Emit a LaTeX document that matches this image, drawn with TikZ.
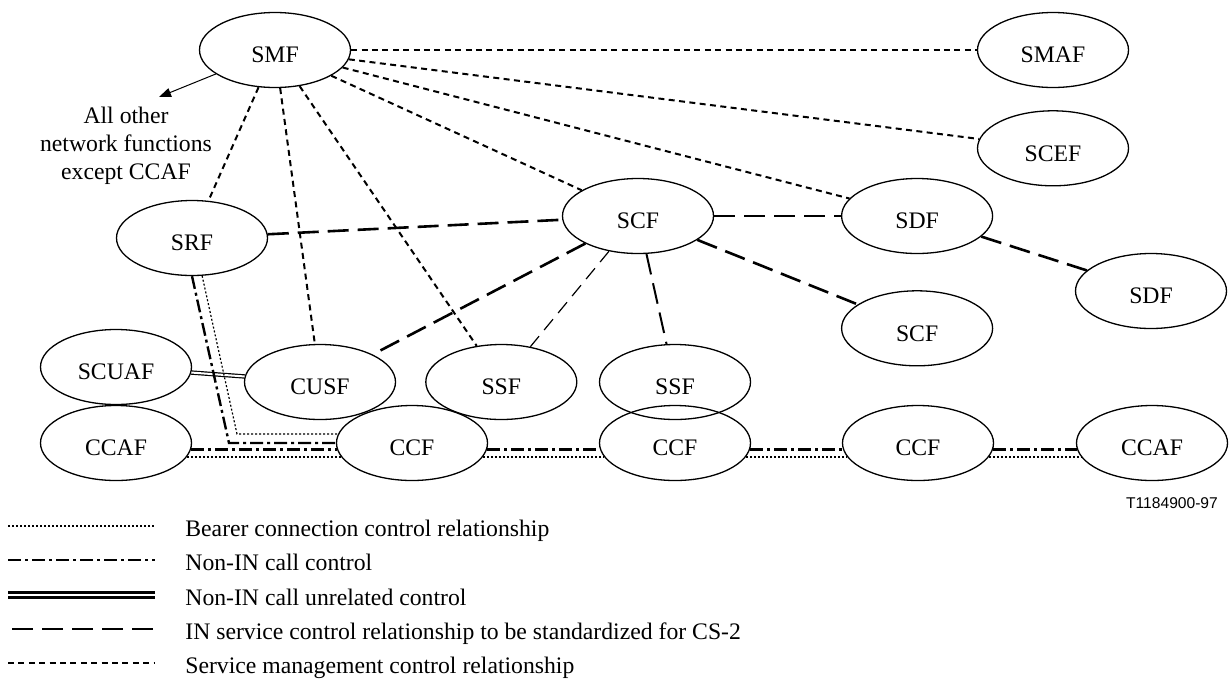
\documentclass[tikz,border=0pt]{standalone}
\usepackage{fontspec}
\setmainfont{Liberation Serif}
\newfontfamily\figidfont{Liberation Sans}
\usepackage{tikz}
\usetikzlibrary{arrows.meta,positioning,shapes.geometric}

\tikzset{
  func/.style={ellipse, draw, line width=0.65pt, minimum width=75.5pt, minimum height=37.5pt,
    inner sep=0pt, text height=12.8pt, text depth=0pt},
  smgmt/.style={line width=1pt, dash pattern=on 3pt off 2.2pt},
  bearer/.style={line width=0.9pt, dash pattern=on 1pt off 1pt},
  callctl/.style={line width=1.2pt, dash pattern=on 6.5pt off 2pt on 1.5pt off 2pt},
  unrel/.style={double, line width=0.6pt, double distance=1pt},
  insvc/.style={line width=1.3pt, dash pattern=on 10.5pt off 4.5pt},
  legtext/.style={anchor=base west, inner sep=0pt},
}

\begin{document}
\begin{tikzpicture}[x=0.5pt, y=-0.5pt, font=\fontsize{11.85pt}{14pt}\selectfont]
    \useasboundingbox (0,0) rectangle (1229,691);

    \node[func] (SMF) at (275,50) {SMF};
    \node[func] (SMAF) at (1053,50) {SMAF};
    \node[func, below=11pt of SMAF] (SCEF) {SCEF};
    \node[func] (SCF) at (638,216) {SCF};
    \node[func, right=63.4pt of SCF] (SDF) {SDF};
    \node[func, below=18pt of SDF] (SCFb) {SCF};
    \node[func] (SDFb) at (1151,291) {SDF};
    \node[func] (SRF) at (192,238) {SRF};
    \node[func] (SCUAF) at (116,367) {SCUAF};
    \node[func] (CUSF) at (320,382) {CUSF};
    \node[func, right=14.5pt of CUSF] (SSFa) {SSF};
    \node[func] (SSFb) at (675,382) {SSF};
    \node[func] (CCAFa) at (116,443) {CCAF};
    \node[func] (CCFa) at (412,443) {CCF};
    \node[func] (CCFb) at (675,443) {CCF};
    \node[func] (CCFc) at (918,443) {CCF};
    \node[func] (CCAFb) at (1152,443) {CCAF};

    % note on SMF
    \node[align=center, inner sep=0pt] (others) at (126,146) {All other\\network functions\\except CCAF};
    \coordinate (otherstip) at (159,97);
    \draw[-{Triangle[length=6pt,width=4.5pt]}, line width=0.5pt] (SMF) -- (otherstip);

    % service management
    \draw[smgmt] (SMF) -- (SMAF);
    \draw[smgmt] (SMF) -- (SCEF);
    \draw[smgmt] (SMF) -- (SDF);
    \draw[smgmt] (SMF) -- (SCF);
    \draw[smgmt] (SMF) -- (SRF);
    \draw[smgmt] (SMF) -- (CUSF);
    \draw[smgmt] (SMF) -- (SSFa);

    % IN service control
    \draw[insvc] (SRF) -- (SCF);
    \draw[insvc] (SCF) -- (SDF);
    \draw[insvc] (SDF) -- (SDFb);
    \draw[insvc] (SCF) -- (SCFb);
    \draw[insvc] (SCF) -- (CUSF);
    \draw[insvc, line width=0.6pt, dash pattern=on 7pt off 4pt] (SCF) -- (SSFa);
    \draw[insvc, line width=1pt] (SCF) -- (SSFb);

    % call unrelated
    \draw[unrel] (SCUAF) -- (CUSF);

    % SRF down to CCF
    \coordinate (srfcc) at (229,443);
    \coordinate (srfbc) at (237,434);
    \draw[callctl] (SRF.south) -- (srfcc) -- (CCFa.west);
    \draw[bearer, line width=0.6pt] (SRF.-75) -- (srfbc) -- (CCFa.173);

    % call control chain
    \draw[callctl] (CCAFa.-5.4) -- (CCFa.185.4);
    \draw[callctl] (CCFa.-5.4) -- (CCFb.185.4);
    \draw[callctl] (CCFb.-5.4) -- (CCFc.185.4);
    \draw[callctl] (CCFc.-5.4) -- (CCAFb.185.4);
    \draw[bearer] (CCAFa.-11.3) -- (CCFa.191.3);
    \draw[bearer] (CCFa.-11.3) -- (CCFb.191.3);
    \draw[bearer] (CCFb.-11.3) -- (CCFc.191.3);
    \draw[bearer] (CCFc.-11.3) -- (CCAFb.191.3);

    \node[font=\fontsize{7.8pt}{9pt}\figidfont\selectfont] (figid) at (1172,503) {T1184900-97};

    % legend
    \coordinate (lg1a) at (8,526);   \coordinate (lg1b) at (155,526);
    \coordinate (lg2a) at (8,560);   \coordinate (lg2b) at (155,560);
    \coordinate (lg3a) at (8,595);   \coordinate (lg3b) at (155,595);
    \coordinate (lg4a) at (12,629);  \coordinate (lg4b) at (155,629);
    \coordinate (lg5a) at (8,663);   \coordinate (lg5b) at (155,663);
    \draw[bearer] (lg1a) -- (lg1b);
    \draw[callctl] (lg2a) -- (lg2b);
    \draw[unrel, line width=1.25pt, double distance=1.15pt] (lg3a) -- (lg3b);
    \draw[insvc] (lg4a) -- (lg4b);
    \draw[smgmt] (lg5a) -- (lg5b);
    \node[legtext] (lg1) at (185,536) {Bearer connection control relationship};
    \node[legtext] (lg2) at (185,570) {Non-IN call control};
    \node[legtext] (lg3) at (185,605) {Non-IN call unrelated control};
    \node[legtext] (lg4) at (185,639) {IN service control relationship to be standardized for CS-2};
    \node[legtext] (lg5) at (185,673) {Service management control relationship};
\end{tikzpicture}
\end{document}
